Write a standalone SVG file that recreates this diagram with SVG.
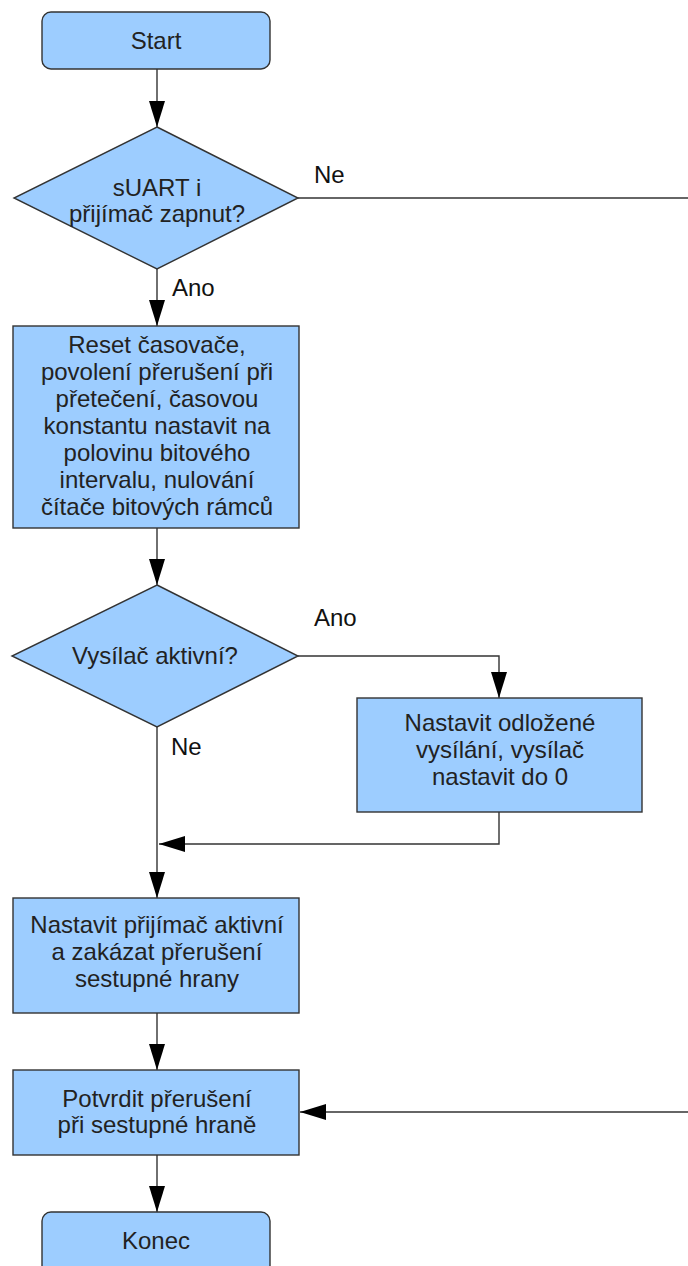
<svg xmlns="http://www.w3.org/2000/svg" width="688" height="1266" viewBox="0 0 688 1266">
<defs>
<style>
.n{fill:#9dcdff;stroke:#333333;stroke-width:1.4}
.c{fill:none;stroke:#333333;stroke-width:1.4}
.t{font-family:"Liberation Sans",Arial,sans-serif;font-size:24px;fill:#222222;text-anchor:middle}
.l{font-family:"Liberation Sans",Arial,sans-serif;font-size:24px;fill:#111111}
</style>
<marker id="a" viewBox="0 0 26 16" refX="26" refY="8" markerWidth="26" markerHeight="16" markerUnits="userSpaceOnUse" orient="auto">
<path d="M0,0 L26,8 L0,16 Z" fill="#000000"/>
</marker>
</defs>
<rect width="688" height="1266" fill="#ffffff"/>
<g id="connectors">
<line class="c" x1="157" y1="69" x2="157" y2="127" marker-end="url(#a)"/>
<line class="c" x1="298" y1="198" x2="688" y2="198"/>
<line class="c" x1="157" y1="269" x2="157" y2="326" marker-end="url(#a)"/>
<line class="c" x1="157" y1="528" x2="157" y2="585" marker-end="url(#a)"/>
<polyline class="c" points="298,656 499,656 499,698" marker-end="url(#a)"/>
<polyline class="c" points="499,812 499,844 159,844" marker-end="url(#a)"/>
<line class="c" x1="157" y1="727" x2="157" y2="898" marker-end="url(#a)"/>
<line class="c" x1="157" y1="1013" x2="157" y2="1070" marker-end="url(#a)"/>
<line class="c" x1="688" y1="1112" x2="300" y2="1112" marker-end="url(#a)"/>
<line class="c" x1="157" y1="1155" x2="157" y2="1212" marker-end="url(#a)"/>
<text class="l" x="314" y="183">Ne</text>
<text class="l" x="172" y="296">Ano</text>
<text class="l" x="314" y="626">Ano</text>
<text class="l" x="171" y="755">Ne</text>
</g>
<g id="start">
<rect class="n" x="42" y="12" width="228" height="57" rx="9"/>
<text class="t" x="156" y="49">Start</text>
</g>
<g id="d1">
<polygon class="n" points="157,127 298,198 157,269 14,198"/>
<text class="t" x="157" y="196">sUART i</text>
<text class="t" x="157" y="222">přijímač zapnut?</text>
</g>
<g id="reset">
<rect class="n" x="13" y="326" width="286" height="202"/>
<text class="t" x="157" y="353">Reset časovače,</text>
<text class="t" x="157" y="380">povolení přerušení při</text>
<text class="t" x="157" y="407">přetečení, časovou</text>
<text class="t" x="157" y="434">konstantu nastavit na</text>
<text class="t" x="157" y="461">polovinu bitového</text>
<text class="t" x="157" y="488">intervalu, nulování</text>
<text class="t" x="157" y="515">čítače bitových rámců</text>
</g>
<g id="d2">
<polygon class="n" points="157,585 298,656 157,727 12,656"/>
<text class="t" x="155" y="664">Vysílač aktivní?</text>
</g>
<g id="odlozene">
<rect class="n" x="357" y="698" width="285" height="114"/>
<text class="t" x="500" y="731">Nastavit odložené</text>
<text class="t" x="500" y="758">vysílání, vysílač</text>
<text class="t" x="500" y="785">nastavit do 0</text>
</g>
<g id="prijimac">
<rect class="n" x="13" y="898" width="286" height="115"/>
<text class="t" x="157" y="933">Nastavit přijímač aktivní</text>
<text class="t" x="157" y="960">a zakázat přerušení</text>
<text class="t" x="157" y="987">sestupné hrany</text>
</g>
<g id="potvrdit">
<rect class="n" x="13" y="1070" width="286" height="85"/>
<text class="t" x="157" y="1107">Potvrdit přerušení</text>
<text class="t" x="157" y="1133">při sestupné hraně</text>
</g>
<g id="konec">
<rect class="n" x="42" y="1212" width="228" height="66" rx="9"/>
<text class="t" x="156" y="1249">Konec</text>
</g>
</svg>
